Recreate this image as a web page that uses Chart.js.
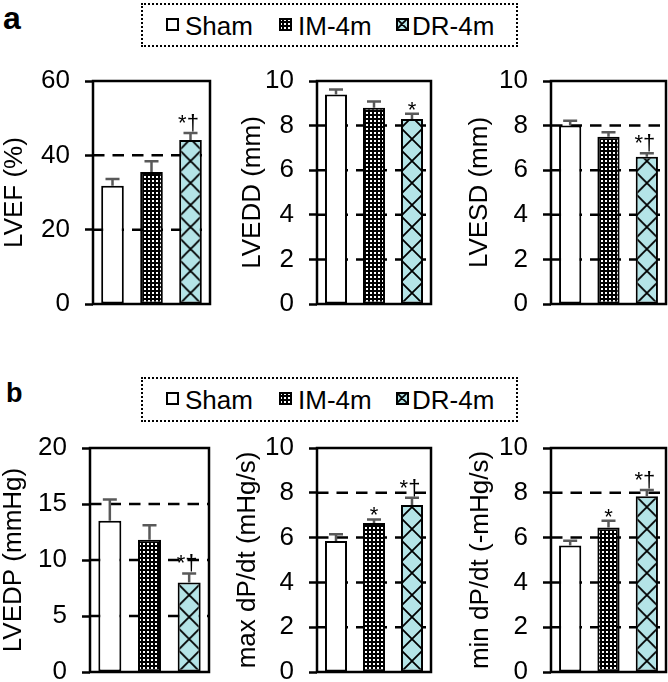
<!DOCTYPE html>
<html>
<head>
<meta charset="utf-8">
<script src="https://cdn.jsdelivr.net/npm/chart.js@4.4.0/dist/chart.umd.min.js"></script>
<style>
  html, body { margin: 0; padding: 0; background: #fff; }
  body { width: 668px; height: 682px; position: relative; overflow: hidden;
         font-family: 'Liberation Sans', Arial, sans-serif; color: #000; }
  .panel { position: absolute; }
  .letter { position: absolute; font-weight: bold; line-height: 1; }
  .legend { position: absolute; border: 2px dotted #000; box-sizing: border-box; }
  .legend span { position: absolute; font-size: 26px; line-height: 26px; white-space: nowrap; }
  .legend canvas { position: absolute; }
</style>
</head>
<body>
<div class="letter" style="left:3px; top:2px; font-size:32px;">a</div>
<div class="letter" style="left:6px; top:380px; font-size:27px;">b</div>

<script>
// groups (same order in every panel)
const groups = ['Sham', 'IM-4m', 'DR-4m'];

// panel a
const lvef = [31.8, 35.5, 44.1];
const lvefSe = [1.8, 2.9, 1.9];
const lvefSig = ['', '', '*†'];
const lvefTicks = [0, 20, 40, 60];

const lvedd = [9.4, 8.8, 8.3];
const lveddSe = [0.22, 0.28, 0.23];
const lveddSig = ['', '', '*'];
const lveddTicks = [0, 2, 4, 6, 8, 10];

const lvesd = [8.0, 7.5, 6.6];
const lvesdSe = [0.22, 0.2, 0.16];
const lvesdSig = ['', '', '*†'];
const lvesdTicks = [0, 2, 4, 6, 8, 10];

// panel b
const lvedp = [13.5, 11.8, 8.0];
const lvedpSe = [1.9, 1.3, 0.8];
const lvedpSig = ['', '', '*†'];
const lvedpTicks = [0, 5, 10, 15, 20];

const maxDpdt = [5.85, 6.65, 7.45];
const maxDpdtSe = [0.3, 0.16, 0.33];
const maxDpdtSig = ['', '*', '*†'];
const maxDpdtTicks = [0, 2, 4, 6, 8, 10];

const minDpdt = [5.65, 6.45, 7.85];
const minDpdtSe = [0.21, 0.3, 0.27];
const minDpdtSig = ['', '*', '*†'];
const minDpdtTicks = [0, 2, 4, 6, 8, 10];

const FONT = "'Liberation Sans', Arial, sans-serif";
Chart.defaults.font.family = FONT;
Chart.defaults.color = '#000';

const CROSS = 22;

function dotPattern(ctx) {
    const c = document.createElement('canvas');
    c.width = 4; c.height = 4;
    const g = c.getContext('2d');
    g.fillStyle = '#000'; g.fillRect(0, 0, 4, 4);
    g.fillStyle = '#fff'; g.fillRect(1, 1, 2, 2);
    return ctx.createPattern(c, 'repeat');
}

function crossPattern(ctx, size) {
    const c = document.createElement('canvas');
    c.width = size; c.height = size;
    const g = c.getContext('2d');
    g.fillStyle = '#b4e4e7'; g.fillRect(0, 0, size, size);
    g.strokeStyle = '#000'; g.lineWidth = 1.8;
    g.beginPath();
    for (const d of [-size, 0, size]) {
        g.moveTo(d, 0); g.lineTo(d + size, size);
        g.moveTo(d + size, 0); g.lineTo(d, size);
    }
    g.stroke();
    return ctx.createPattern(c, 'repeat');
}

// gridlines, error bars, significance marks and frame
const decor = {
    id: 'decor',
    beforeDatasetsDraw(chart, args, opts) {
        const { ctx, chartArea: a, scales: { y } } = chart;
        ctx.save();
        ctx.strokeStyle = '#000';
        ctx.lineWidth = 2.5;
        ctx.setLineDash([11.5, 8]);
        y.ticks.forEach(t => {
            if (t.value === y.min || t.value === y.max) return;
            const py = y.getPixelForValue(t.value);
            ctx.beginPath(); ctx.moveTo(a.left, py); ctx.lineTo(a.right, py); ctx.stroke();
        });
        ctx.restore();
        // line the cross hatch up with its bar
        const bar = chart.getDatasetMeta(0).data[2];
        if (bar && opts.cross) {
            opts.cross.setTransform(new DOMMatrix().translateSelf(bar.x - CROSS / 2, a.bottom));
        }
    },
    afterDatasetsDraw(chart, args, opts) {
        const { ctx, chartArea: a, scales: { y } } = chart;
        const vals = chart.data.datasets[0].data;
        ctx.save();
        chart.getDatasetMeta(0).data.forEach((bar, i) => {
            const top = y.getPixelForValue(vals[i] + opts.err[i]);
            ctx.strokeStyle = '#595959';
            ctx.lineWidth = 2.5;
            ctx.beginPath();
            ctx.moveTo(bar.x, bar.y); ctx.lineTo(bar.x, top);
            ctx.moveTo(bar.x - 7, top); ctx.lineTo(bar.x + 7, top);
            ctx.stroke();
            const s = opts.sig[i];
            if (s) {
                ctx.fillStyle = '#000';
                ctx.font = '22px ' + FONT;
                ctx.textAlign = 'center';
                ctx.textBaseline = 'alphabetic';
                if (s === '*') ctx.fillText(s, bar.x, top + 3);
                else ctx.fillText(s, bar.x - 2, top - 3);
            }
        });
        ctx.strokeStyle = '#000';
        ctx.lineWidth = 2.5;
        ctx.strokeRect(a.left, a.top, a.right - a.left, a.bottom - a.top);
        ctx.restore();
    }
};

const panels = [
    { title: 'LVEF (%)', vals: lvef, err: lvefSe, sig: lvefSig, ticks: lvefTicks, tx: 15, left: 93, right: 210, top: 81, bottom: 304 },
    { title: 'LVEDD (mm)', vals: lvedd, err: lveddSe, sig: lveddSig, ticks: lveddTicks, tx: 252.5, left: 317, right: 431, top: 81, bottom: 304 },
    { title: 'LVESD (mm)', vals: lvesd, err: lvesdSe, sig: lvesdSig, ticks: lvesdTicks, tx: 480, left: 551, right: 666, top: 81, bottom: 304 },
    { title: 'LVEDP (mmHg)', vals: lvedp, err: lvedpSe, sig: lvedpSig, ticks: lvedpTicks, tx: 13.3, left: 90, right: 209, top: 448, bottom: 672 },
    { title: 'max dP/dt (mHg/s)', vals: maxDpdt, err: maxDpdtSe, sig: maxDpdtSig, ticks: maxDpdtTicks, tx: 248, left: 317, right: 431, top: 448, bottom: 672 },
    { title: 'min dP/dt (-mHg/s)', vals: minDpdt, err: minDpdtSe, sig: minDpdtSig, ticks: minDpdtTicks, tx: 481, left: 551, right: 666, top: 448, bottom: 672 }
];

function makePanel(p) {
    const padV = 18, padR = 4;
    const cLeft = Math.round(p.tx - 15.6);
    const cTop = p.top - padV;
    const w = p.right - cLeft + padR;
    const h = p.bottom - p.top + 2 * padV;
    const wrap = document.createElement('div');
    wrap.className = 'panel';
    wrap.style.left = cLeft + 'px';
    wrap.style.top = cTop + 'px';
    const cv = document.createElement('canvas');
    cv.width = w; cv.height = h;
    wrap.appendChild(cv);
    document.body.appendChild(wrap);
    const ctx = cv.getContext('2d');
    const cross = crossPattern(ctx, CROSS);
    const axisW = p.left - cLeft;

    new Chart(cv, {
        type: 'bar',
        data: {
            labels: groups,
            datasets: [{
                data: p.vals,
                backgroundColor: ['#fff', dotPattern(ctx), cross],
                borderColor: '#000',
                borderWidth: 2,
                borderSkipped: false,
                barPercentage: 0.58,
                categoryPercentage: 1
            }]
        },
        options: {
            responsive: false,
            animation: false,
            devicePixelRatio: 1,
            layout: { padding: { top: padV, bottom: padV, left: 0, right: padR } },
            plugins: {
                legend: { display: false },
                tooltip: { enabled: false },
                decor: { err: p.err, sig: p.sig, cross: cross }
            },
            scales: {
                x: { display: false, offset: true },
                y: {
                    min: p.ticks[0],
                    max: p.ticks[p.ticks.length - 1],
                    afterFit: s => { s.width = axisW; s.paddingTop = 0; s.paddingBottom = 0; },
                    ticks: { stepSize: p.ticks[1] - p.ticks[0], padding: 15, color: '#000', font: { size: 26 } },
                    grid: { drawOnChartArea: false, drawTicks: true, tickLength: 8, tickWidth: 2.5, tickColor: '#000' },
                    border: { display: false },
                    title: { display: true, text: p.title, color: '#000', padding: 0, font: { size: 26 } }
                }
            }
        },
        plugins: [decor]
    });
}

panels.forEach(makePanel);

// legends (one above each row)
const legendTops = [3, 377];
const legendHeights = [44, 45];
const swatchX = [166, 279, 396];
const labelX = [185, 298, 412];

function drawSwatch(cv, i) {
    const g = cv.getContext('2d');
    g.fillStyle = i === 0 ? '#fff' : i === 1 ? dotPattern(g) : crossPattern(g, 12);
    g.fillRect(0, 0, 13, 13);
    g.strokeStyle = '#000';
    g.lineWidth = 2;
    g.strokeRect(1, 1, 11, 11);
}

legendTops.forEach((top, k) => {
    const box = document.createElement('div');
    box.className = 'legend';
    box.style.left = '141px';
    box.style.top = top + 'px';
    box.style.width = '377px';
    box.style.height = legendHeights[k] + 'px';
    groups.forEach((name, i) => {
        const sw = document.createElement('canvas');
        sw.width = 13; sw.height = 13;
        sw.style.left = (swatchX[i] - 143) + 'px';
        sw.style.top = '13px';
        drawSwatch(sw, i);
        box.appendChild(sw);
        const t = document.createElement('span');
        t.textContent = name;
        t.style.left = (labelX[i] - 143) + 'px';
        t.style.top = '7.5px';
        box.appendChild(t);
    });
    document.body.appendChild(box);
});
</script>
</body>
</html>
